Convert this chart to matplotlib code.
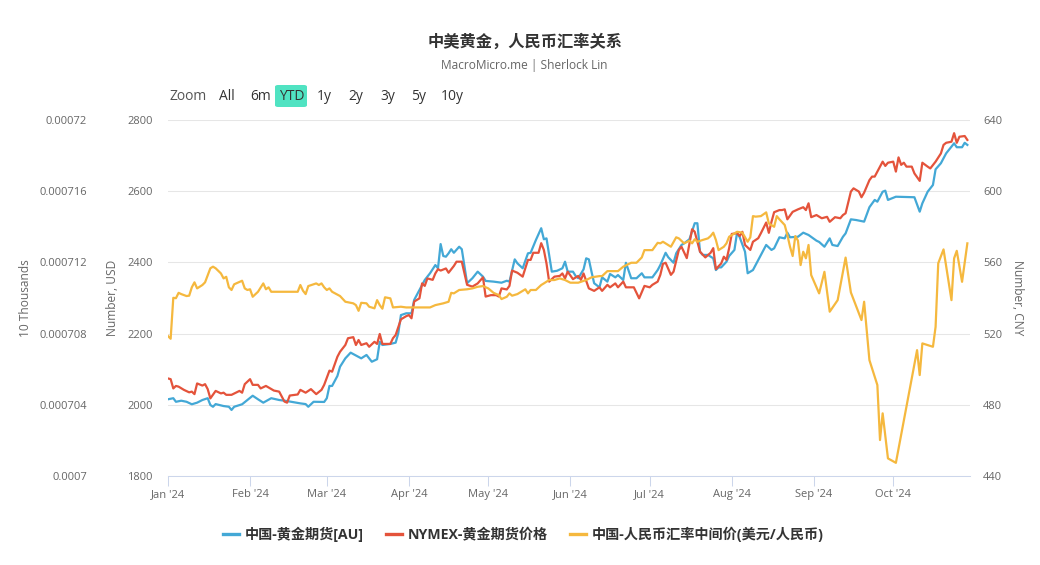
import matplotlib
matplotlib.use('Agg')
import matplotlib.pyplot as plt
import matplotlib.dates as mdates
import matplotlib.patches as mpatches
from matplotlib.lines import Line2D
import pandas as pd

plt.rcParams['font.family'] = ['Open Sans', 'Noto Sans CJK SC', 'DejaVu Sans']

title = '中美黄金，人民币汇率关系'
subtitle = 'MacroMicro.me | Sherlock Lin'
series_names = ['中国-黄金期货[AU]', 'NYMEX-黄金期货价格', '中国-人民币汇率中间价(美元/人民币)']
series_colors = ['#43a8d6', '#e4533b', '#f5b83e']
range_buttons = ['All', '6m', 'YTD', '1y', '2y', '3y', '5y', '10y']
active_button = 'YTD'
year = '2024'

# 中国-黄金期货[AU]  (CNY, right axis)
au_dates = [
    '01-01', '01-03', '01-04', '01-06', '01-08', '01-10', '01-12', '01-14', '01-16', '01-17', '01-18', '01-19', '01-22', '01-24', '01-25', '01-26', '01-29', '01-31',
    '02-02', '02-04', '02-06', '02-09', '02-12', '02-15', '02-20', '02-22', '02-23', '02-25', '02-29',
    '03-01', '03-02', '03-03', '03-05', '03-06', '03-08', '03-10', '03-11', '03-14', '03-16', '03-18', '03-20', '03-21', '03-22', '03-25', '03-27', '03-28', '03-29', '03-31',
    '04-02', '04-03', '04-05', '04-07', '04-09', '04-11', '04-12', '04-13', '04-14', '04-15', '04-16', '04-17', '04-18', '04-20', '04-21', '04-23', '04-25', '04-27', '04-29', '04-30',
    '05-03', '05-06', '05-08', '05-09', '05-11', '05-12', '05-14', '05-16', '05-17', '05-19', '05-21', '05-22', '05-23', '05-25', '05-27', '05-29', '05-30', '05-31',
    '06-02', '06-03', '06-04', '06-06', '06-07', '06-08', '06-09', '06-10', '06-12', '06-13', '06-15', '06-16', '06-18', '06-19', '06-21', '06-22', '06-24', '06-26', '06-28', '06-29',
    '07-02', '07-04', '07-05', '07-07', '07-08', '07-10', '07-11', '07-13', '07-14', '07-16', '07-18', '07-19', '07-20', '07-21', '07-23', '07-25', '07-26', '07-27', '07-28', '07-30', '07-31',
    '08-02', '08-03', '08-04', '08-06', '08-07', '08-09', '08-11', '08-12', '08-14', '08-16', '08-17', '08-19', '08-21', '08-22', '08-23', '08-26', '08-28', '08-30',
    '09-02', '09-03', '09-05', '09-07', '09-08', '09-10', '09-12', '09-13', '09-15', '09-17', '09-20', '09-22', '09-24', '09-25', '09-27', '09-28', '09-29',
    '10-02', '10-09', '10-11', '10-12', '10-14', '10-16', '10-17', '10-19', '10-21', '10-23', '10-24', '10-25', '10-27', '10-28', '10-29',
]
au_values = [
    483.1, 483.7, 481.7, 482.3, 481.7, 480.3, 481.2, 482.7, 483.7, 479.9, 478.9, 480.4, 479.3, 478.9, 477.1, 478.9, 480.3, 482.7,
    485.1, 483.1, 481.2, 483.7, 482.7, 482.1, 480.8, 480.4, 478.9, 481.7, 481.6,
    483.7, 490.6, 490.6, 496.2, 501.4, 506.1, 509.3, 508.5, 506.1, 508.0, 504.2, 505.6, 515.4, 513.6, 514.2, 514.9, 520.2, 530.4, 531.4,
    531.4, 538.9, 544.5, 550.1, 553.9, 558.5, 556.7, 570.3, 563.6, 563.2, 565.1, 567.4, 565.4, 568.8, 567.4, 548.3, 551.1, 554.8, 552.0, 549.6,
    549.2, 548.6, 549.7, 549.2, 561.7, 559.5, 556.7, 565.1, 565.4, 572.6, 579.2, 573.0, 573.5, 554.8, 555.3, 556.7, 560.4, 554.8,
    554.8, 552.4, 551.1, 556.1, 562.3, 561.7, 554.8, 548.3, 546.0, 551.6, 549.2, 553.5, 551.6, 552.9, 550.1, 559.8, 551.1, 551.1, 553.9, 551.6,
    551.6, 555.7, 558.5, 565.4, 562.9, 559.8, 565.1, 569.8, 570.7, 573.0, 582.0, 582.0, 566.0, 564.2, 564.2, 562.3, 555.7, 557.2, 557.2, 560.4, 563.6,
    567.0, 576.7, 574.1, 566.0, 553.9, 555.7, 561.3, 564.2, 569.8, 567.0, 567.9, 574.1, 573.5, 576.7, 574.1, 574.4, 576.7, 575.4,
    572.2, 571.5, 568.8, 573.5, 569.8, 569.2, 574.4, 576.3, 584.2, 583.8, 582.9, 591.0, 595.1, 594.1, 599.7, 600.3, 595.1,
    596.9, 596.6, 588.5, 593.2, 599.7, 603.5, 612.3, 615.7, 621.3, 625.0, 626.9, 624.7, 624.7, 627.2, 626.0,
]

# NYMEX-黄金期货价格 (USD, inner left axis)
nymex_dates = [
    '01-01', '01-02', '01-03', '01-04', '01-05', '01-07', '01-09', '01-10', '01-11', '01-12', '01-14', '01-15', '01-16', '01-17', '01-19', '01-21', '01-22', '01-23', '01-25', '01-28', '01-29', '01-30',
    '02-01', '02-02', '02-04', '02-05', '02-07', '02-10', '02-12', '02-14', '02-15', '02-16', '02-19', '02-20', '02-22', '02-24', '02-26', '02-28', '02-29',
    '03-02', '03-03', '03-05', '03-06', '03-08', '03-09', '03-11', '03-12', '03-13', '03-14', '03-16', '03-17', '03-19', '03-20', '03-21', '03-22', '03-25', '03-26', '03-27', '03-29', '03-31',
    '04-01', '04-02', '04-03', '04-05', '04-06', '04-07', '04-08', '04-10', '04-11', '04-12', '04-13', '04-15', '04-16', '04-18', '04-19', '04-21', '04-23', '04-25', '04-27', '04-29', '04-30',
    '05-02', '05-04', '05-05', '05-06', '05-08', '05-09', '05-10', '05-12', '05-14', '05-16', '05-17', '05-18', '05-20', '05-21', '05-22', '05-23', '05-24', '05-26', '05-28', '05-29', '05-30', '05-31',
    '06-02', '06-04', '06-05', '06-06', '06-08', '06-10', '06-12', '06-13', '06-15', '06-16', '06-18', '06-19', '06-21', '06-22', '06-25', '06-27', '06-29',
    '07-01', '07-02', '07-04', '07-05', '07-06', '07-07', '07-09', '07-10', '07-12', '07-13', '07-15', '07-17', '07-18', '07-20', '07-22', '07-24', '07-25', '07-26', '07-28', '07-29', '07-30', '07-31',
    '08-01', '08-03', '08-04', '08-05', '08-06', '08-08', '08-09', '08-11', '08-12', '08-14', '08-15', '08-16', '08-17', '08-19', '08-20', '08-21', '08-22', '08-24', '08-26', '08-28', '08-29', '08-30', '08-31',
    '09-02', '09-04', '09-06', '09-07', '09-09', '09-11', '09-12', '09-13', '09-15', '09-16', '09-18', '09-19', '09-20', '09-22', '09-23', '09-24', '09-25', '09-27', '09-28', '09-29',
    '10-01', '10-02', '10-03', '10-04', '10-05', '10-06', '10-08', '10-09', '10-11', '10-12', '10-14', '10-15', '10-17', '10-19', '10-20', '10-21', '10-23', '10-24', '10-25', '10-26', '10-28', '10-29',
]
nymex_values = [
    2074, 2072, 2046, 2053, 2051, 2042, 2035, 2037, 2030, 2060, 2054, 2058, 2044, 2018, 2039, 2032, 2034, 2028, 2028, 2039, 2034, 2058,
    2072, 2056, 2056, 2046, 2053, 2040, 2037, 2009, 2006, 2026, 2029, 2042, 2034, 2044, 2030, 2042, 2056,
    2096, 2093, 2135, 2149, 2168, 2187, 2190, 2168, 2182, 2168, 2173, 2163, 2177, 2171, 2199, 2171, 2171, 2187, 2196, 2240, 2249,
    2252, 2243, 2290, 2299, 2341, 2334, 2355, 2351, 2369, 2381, 2377, 2383, 2371, 2390, 2402, 2402, 2337, 2332, 2341, 2358, 2304,
    2308, 2308, 2304, 2327, 2324, 2334, 2377, 2371, 2360, 2407, 2407, 2427, 2427, 2454, 2435, 2397, 2346, 2360, 2362, 2369, 2355, 2374,
    2353, 2362, 2351, 2369, 2327, 2320, 2330, 2320, 2337, 2330, 2341, 2330, 2346, 2330, 2330, 2299, 2334,
    2330, 2337, 2346, 2365, 2396, 2399, 2365, 2374, 2435, 2444, 2412, 2493, 2486, 2430, 2414, 2427, 2440, 2381, 2397, 2416, 2407, 2440,
    2480, 2482, 2474, 2486, 2449, 2435, 2458, 2468, 2482, 2512, 2483, 2514, 2541, 2547, 2547, 2549, 2521, 2542, 2549, 2555, 2547, 2566, 2527,
    2533, 2524, 2528, 2514, 2527, 2524, 2533, 2538, 2599, 2608, 2599, 2583, 2596, 2631, 2641, 2641, 2655, 2683, 2671, 2680,
    2683, 2655, 2695, 2674, 2680, 2669, 2669, 2650, 2629, 2680, 2669, 2664, 2683, 2706, 2730, 2736, 2739, 2763, 2736, 2753, 2755, 2744,
]

# 中国-人民币汇率中间价(美元/人民币), CNY per USD, shown in units of 10 thousands
rate_dates = [
    '01-01', '01-02', '01-03', '01-04', '01-05', '01-06', '01-08', '01-09', '01-10', '01-11', '01-12', '01-14', '01-15', '01-17', '01-18', '01-19', '01-21', '01-22', '01-23', '01-24', '01-25', '01-26', '01-29', '01-30', '01-31',
    '02-01', '02-02', '02-04', '02-06', '02-07', '02-08', '02-09', '02-19', '02-20', '02-21', '02-22', '02-23', '02-26', '02-27', '02-28', '02-29',
    '03-01', '03-02', '03-03', '03-06', '03-08', '03-11', '03-12', '03-13', '03-14', '03-16', '03-17', '03-19', '03-20', '03-21', '03-22', '03-23', '03-25', '03-26', '03-29', '03-31',
    '04-02', '04-09', '04-11', '04-14', '04-16', '04-17', '04-18', '04-20', '04-23', '04-25', '04-27', '04-29',
    '05-01', '05-03', '05-05', '05-06', '05-08', '05-09', '05-10', '05-12', '05-15', '05-16', '05-17', '05-19', '05-21', '05-22', '05-24', '05-26', '05-28', '05-30',
    '06-01', '06-04', '06-07', '06-09', '06-12', '06-13', '06-15', '06-19', '06-21', '06-24', '06-26', '06-28', '06-29',
    '07-02', '07-04', '07-05', '07-06', '07-09', '07-11', '07-12', '07-14', '07-16', '07-17', '07-18', '07-19', '07-21', '07-23', '07-24', '07-25', '07-26', '07-27', '07-29', '07-30', '07-31',
    '08-02', '08-03', '08-05', '08-07', '08-08', '08-09', '08-10', '08-12', '08-14', '08-15', '08-17', '08-18', '08-19', '08-21', '08-22', '08-23', '08-24', '08-25', '08-26', '08-27', '08-28', '08-29', '08-30', '08-31',
    '09-03', '09-05', '09-07', '09-10', '09-12', '09-13', '09-15', '09-19', '09-20', '09-22', '09-25', '09-26', '09-27', '09-29',
    '10-02', '10-10', '10-11', '10-12', '10-16', '10-17', '10-18', '10-20', '10-23', '10-24', '10-25', '10-27', '10-29',
]
rate_values = [
    7.0786, 7.0771, 7.1001, 7.0999, 7.1029, 7.1022, 7.1011, 7.1013, 7.1060, 7.1088, 7.1054, 7.1073, 7.1088, 7.1167, 7.1176, 7.1167, 7.1138, 7.1110, 7.1119, 7.1060, 7.1045, 7.1077, 7.1097, 7.1054, 7.1045,
    7.1049, 7.1007, 7.1035, 7.1082, 7.1049, 7.1060, 7.1035, 7.1035, 7.1073, 7.1041, 7.1022, 7.1067, 7.1082, 7.1073, 7.1082, 7.1060,
    7.1045, 7.1054, 7.1035, 7.1011, 7.0979, 7.0970, 7.0960, 7.0928, 7.0973, 7.0970, 7.0951, 7.0942, 7.0988, 7.0960, 7.0940, 7.1004, 7.0998, 7.0947, 7.0951, 7.0947,
    7.0947, 7.0947, 7.0960, 7.0970, 7.0979, 7.1029, 7.1026, 7.1045, 7.1049, 7.1054, 7.1063, 7.1067,
    7.1054, 7.1029, 7.1016, 7.0994, 7.1007, 7.1026, 7.1013, 7.1022, 7.1049, 7.1026, 7.1045, 7.1045, 7.1073, 7.1082, 7.1101, 7.1101, 7.1110, 7.1101,
    7.1086, 7.1086, 7.1101, 7.1116, 7.1123, 7.1123, 7.1151, 7.1151, 7.1176, 7.1198, 7.1198, 7.1228, 7.1269,
    7.1269, 7.1310, 7.1307, 7.1316, 7.1288, 7.1341, 7.1335, 7.1307, 7.1322, 7.1307, 7.1330, 7.1316, 7.1326, 7.1335, 7.1348, 7.1367, 7.1326, 7.1269, 7.1288, 7.1307, 7.1344,
    7.1363, 7.1372, 7.1367, 7.1316, 7.1341, 7.1460, 7.1457, 7.1460, 7.1481, 7.1419, 7.1400, 7.1460, 7.1442, 7.1410, 7.1354, 7.1288, 7.1236, 7.1348, 7.1322, 7.1185, 7.1260, 7.1223, 7.1298, 7.1129,
    7.1026, 7.1147, 7.0923, 7.0988, 7.1147, 7.1227, 7.1031, 7.0876, 7.0979, 7.0651, 7.0511, 7.0202, 7.0352, 7.0099,
    7.0074, 7.0707, 7.0567, 7.0745, 7.0726, 7.0838, 7.1195, 7.1273, 7.0988, 7.1223, 7.1265, 7.1091, 7.1307,
]
rate_unit = 10000  # axis shows the rate in units of 10 thousands

usd_ticks = [1800, 2000, 2200, 2400, 2600, 2800]
cny_ticks = [440, 480, 520, 560, 600, 640]
rate_ticks = [0.0007, 0.000704, 0.000708, 0.000712, 0.000716, 0.00072]
rate_tick_labels = ['0.0007', '0.000704', '0.000708', '0.000712', '0.000716', '0.00072']
x_start = '2024-01-01'
x_end = '2024-10-30'

assert len(au_dates) == len(au_values)
assert len(nymex_dates) == len(nymex_values)
assert len(rate_dates) == len(rate_values)


def to_dt(lst):
    return pd.to_datetime([f'{year}-{d}' for d in lst])


W, H = 1040, 565
fig = plt.figure(figsize=(W / 100, H / 100), dpi=100)
fig.patch.set_facecolor('white')
px_l, px_r, px_t, px_b = 168, 970, 120, 476
ax = fig.add_axes([px_l / W, 1 - px_b / H, (px_r - px_l) / W, (px_b - px_t) / H])
ax_usd = ax.twinx()
ax_rate = ax.twinx()

lw = 1.6
ax.plot(to_dt(au_dates), au_values, color=series_colors[0], lw=lw, solid_joinstyle='round')
ax_usd.plot(to_dt(nymex_dates), nymex_values, color=series_colors[1], lw=lw, solid_joinstyle='round')
ax_rate.plot(to_dt(rate_dates), [v / rate_unit for v in rate_values], color=series_colors[2], lw=lw,
             solid_joinstyle='round')

ax.set_xlim(pd.Timestamp(x_start), pd.Timestamp(x_end))
ax.set_ylim(cny_ticks[0], cny_ticks[-1])
ax_usd.set_ylim(usd_ticks[0], usd_ticks[-1])
ax_rate.set_ylim(rate_ticks[0], rate_ticks[-1])

tick_color = '#666666'
fs_tick = 8

# CNY axis on right
ax.yaxis.tick_right()
ax.set_yticks(cny_ticks)
ax.set_yticklabels([str(t) for t in cny_ticks])
ax.tick_params(axis='y', length=0, pad=9.5, labelsize=fs_tick, labelcolor=tick_color)
ax.yaxis.grid(True, color='#e6e6e6', lw=0.75)
ax.set_axisbelow(True)

# USD axis inner left
ax_usd.yaxis.tick_left()
ax_usd.set_yticks(usd_ticks)
ax_usd.set_yticklabels([str(t) for t in usd_ticks])
ax_usd.tick_params(axis='y', length=0, pad=10.8, labelsize=fs_tick, labelcolor=tick_color)

# rate axis outer left
ax_rate.yaxis.tick_left()
ax_rate.set_yticks(rate_ticks)
ax_rate.set_yticklabels(rate_tick_labels)
ax_rate.tick_params(axis='y', length=0, pad=58.3, labelsize=fs_tick, labelcolor=tick_color)

# x axis
ax.xaxis.set_major_locator(mdates.MonthLocator())
ax.xaxis.set_major_formatter(mdates.DateFormatter("%b '%y"))
ax.tick_params(axis='x', length=7.2, width=0.75, color='#ccd6eb', pad=2.5, labelsize=fs_tick,
               labelcolor=tick_color)

for a in (ax, ax_usd, ax_rate):
    for s in a.spines.values():
        s.set_visible(False)
ax.spines['bottom'].set_visible(True)
ax.spines['bottom'].set_color('#ccd6eb')
ax.spines['bottom'].set_linewidth(0.75)

# axis titles
yc = 1 - 298 / H
fig.text(26 / W, yc, '10 Thousands', rotation=90, ha='center', va='center', fontsize=8.6, color=tick_color)
fig.text(112 / W, yc, 'Number, USD', rotation=90, ha='center', va='center', fontsize=8.6, color=tick_color)
fig.text(1018 / W, yc, 'Number, CNY', rotation=270, ha='center', va='center', fontsize=8.6, color=tick_color)

# title
fig.text(525 / W, 1 - 42 / H, title, ha='center', va='center', fontsize=11.7, fontweight='bold',
         color='#333333', family=['Noto Sans CJK SC', 'DejaVu Sans'])
fig.text(524 / W, 1 - 65 / H, subtitle, ha='center', va='center', fontsize=8.6, color='#666666')

# range selector
yb = 1 - 96 / H
fig.text(169 / W, yb, 'Zoom', ha='left', va='center', fontsize=10, color='#555555')
btn_x = [219, 250, 279, 317, 348, 380, 411, 441]
for label, bx in zip(range_buttons, btn_x):
    if label == active_button:
        fig.patches.append(mpatches.FancyBboxPatch((275 / W, 1 - 107 / H), 32 / W, 22 / H,
                                                   boxstyle='round,pad=0,rounding_size=0.003',
                                                   transform=fig.transFigure, fc='#50e3c2', ec='none'))
    fig.text(bx / W, yb, label, ha='left', va='center', fontsize=10, color='#333333')

# legend
handles = [Line2D([0], [0], color=c, lw=2.4) for c in series_colors]
fig.legend(handles, series_names, loc='center', bbox_to_anchor=(523.5 / W, 1 - 534 / H), ncol=3,
           frameon=False, prop={'weight': 'bold', 'size': 10.2}, handlelength=1.15, handletextpad=0.4,
           columnspacing=1.55, labelcolor='#333333')

fig.savefig('out.png', dpi=100, facecolor='white')
